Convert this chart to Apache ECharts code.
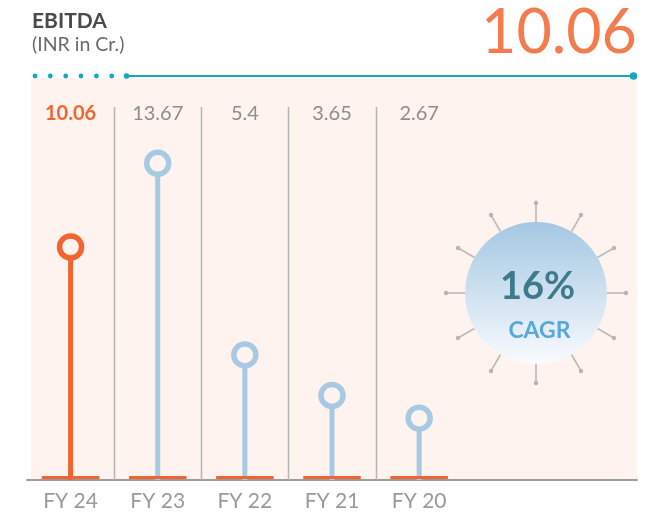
<!DOCTYPE html>
<html><head><meta charset="utf-8">
<script src="https://cdn.jsdelivr.net/npm/echarts@6/dist/echarts.min.js"></script>
<style>html,body{margin:0;padding:0;background:#fff}#c{width:668px;height:520px}</style>
</head><body><div id="c"></div>
<script>
const titleText = 'EBITDA';
const unitText = '(INR in Cr.)';
const categories = ['FY 24', 'FY 23', 'FY 22', 'FY 21', 'FY 20'];
const values = [10.06, 13.67, 5.4, 3.65, 2.67];
const valueLabels = ['10.06', '13.67', '5.4', '3.65', '2.67'];
const cagrValue = '16%';
const cagrLabel = 'CAGR';

const ORANGE = '#f26531', BLUE = '#a7c9e3', PANEL = '#fef3ee', TEAL = '#16a7bd';
const FONT = 'Lato';
const pad = ['', ''];
const colorOf = i => (i === 0 ? ORANGE : BLUE);

const chart = echarts.init(document.getElementById('c'), null, { renderer: 'canvas' });

// decorative graphics
const g = [];
g.push({ type: 'rect', z: -10, shape: { x: 31, y: 78, width: 606, height: 402 }, style: { fill: PANEL } });
// header
g.push({ type: 'text', x: 32, y: 21.5, style: { text: titleText, font: 'bold 21px ' + FONT, fill: '#4a4a4a', verticalAlign: 'middle' } });
g.push({ type: 'text', x: 32, y: 45, style: { text: unitText, font: '19.5px ' + FONT, fill: '#6a6a6a', verticalAlign: 'middle' } });
g.push({ type: 'text', x: 637, y: 33, style: { text: valueLabels[0], font: '61px ' + FONT, fill: '#f47b4d', align: 'right', verticalAlign: 'middle' } });
// dotted rule
[35, 50.3, 65.7, 81, 96.4, 111.7].forEach(x => g.push({ type: 'circle', shape: { cx: x, cy: 76, r: 2.4 }, style: { fill: TEAL } }));
g.push({ type: 'line', shape: { x1: 126.5, y1: 76, x2: 633.5, y2: 76 }, style: { stroke: TEAL, lineWidth: 2 } });
g.push({ type: 'circle', shape: { cx: 126.5, cy: 76, r: 2.8 }, style: { fill: TEAL } });
g.push({ type: 'circle', shape: { cx: 633.5, cy: 76, r: 3.8 }, style: { fill: TEAL } });
// CAGR sun
const CX = 536, CY = 293, R = 71, RR = 90;
for (let k = 0; k < 12; k++) {
  const a = k * Math.PI / 6;
  const s = Math.sin(a), c = Math.cos(a);
  g.push({ type: 'line', shape: { x1: CX + s * R, y1: CY - c * R, x2: CX + s * RR, y2: CY - c * RR }, style: { stroke: '#b9b9b9', lineWidth: 1.6 } });
  g.push({ type: 'circle', shape: { cx: CX + s * RR, cy: CY - c * RR, r: 2.2 }, style: { fill: '#b5b5b5' } });
}
g.push({ type: 'circle', shape: { cx: CX, cy: CY, r: R }, style: { fill: { type: 'linear', x: 0, y: 0, x2: 0, y2: 1, colorStops: [{ offset: 0, color: '#a4c7e2' }, { offset: 1, color: '#f9fbfe' }] } } });
g.push({ type: 'text', x: 537.5, y: 287, style: { text: cagrValue, font: 'bold 38px ' + FONT, fill: '#3e7a8b', align: 'center', verticalAlign: 'middle' } });
g.push({ type: 'text', x: 539.5, y: 331, style: { text: cagrLabel, font: 'bold 23px ' + FONT, fill: '#58a8da', align: 'center', verticalAlign: 'middle' } });

const option = {
  backgroundColor: '#ffffff',
  animation: false,
  grid: { left: 27, right: 31, top: 107, bottom: 40 },
  xAxis: [
    {
      type: 'category', position: 'bottom', data: categories.concat(pad),
      axisLine: { show: true, lineStyle: { color: '#9c9c9c', width: 2 } },
      axisTick: { show: false },
      axisLabel: { color: '#9a9a9a', fontSize: 21, fontFamily: FONT, margin: 11 },
      splitLine: { show: false }
    },
    {
      type: 'category', position: 'top', data: valueLabels.concat(pad),
      axisLine: { show: false }, axisTick: { show: false }, splitLine: { show: false },
      axisLabel: {
        inside: true, margin: -3, verticalAlign: 'top',
        formatter: (v, i) => (i === 0 ? '{h|' + v + '}' : '{n|' + v + '}'),
        rich: {
          h: { fontSize: 20, fontFamily: FONT, fontWeight: 'bold', color: ORANGE },
          n: { fontSize: 20, fontFamily: FONT, color: '#8d8d8d' }
        }
      }
    }
  ],
  yAxis: { type: 'value', min: 0, max: 16.1, show: false },
  graphic: { elements: g },
  series: [
    {
      type: 'custom', z: 1, xAxisIndex: 0,
      data: categories.slice(1).map((c, i) => [i, 0]),
      encode: { x: 0, y: 1 },
      renderItem: (params, api) => {
        const p = api.coord([api.value(0), 0]);
        const bw = api.size([1, 0])[0];
        const x = Math.round(p[0] + bw / 2) + 0.5;
        return { type: 'line', shape: { x1: x, y1: params.coordSys.y, x2: x, y2: p[1] }, style: { stroke: '#b4b4b4', lineWidth: 1.5 } };
      }
    },
    {
      type: 'bar', z: 2, barWidth: 5, xAxisIndex: 0,
      data: values.map((v, i) => ({ value: v, itemStyle: { color: colorOf(i) } }))
    },
    {
      type: 'custom', z: 3, xAxisIndex: 0,
      data: categories.map((c, i) => [i, 0]),
      encode: { x: 0, y: 1 },
      renderItem: (params, api) => {
        const p = api.coord([api.value(0), 0]);
        const bw = api.size([1, 0])[0];
        const w = bw * 0.66;
        return { type: 'rect', shape: { x: p[0] - w / 2, y: p[1] - 4, width: w, height: 3 }, style: { fill: ORANGE } };
      }
    },
    {
      type: 'scatter', z: 4, xAxisIndex: 0, symbol: 'circle', symbolSize: 22,
      data: values.map((v, i) => ({ value: v, itemStyle: { color: PANEL, borderColor: colorOf(i), borderWidth: 5.5, opacity: 1 } }))
    }
  ]
};
chart.setOption(option);
</script>
</body></html>
